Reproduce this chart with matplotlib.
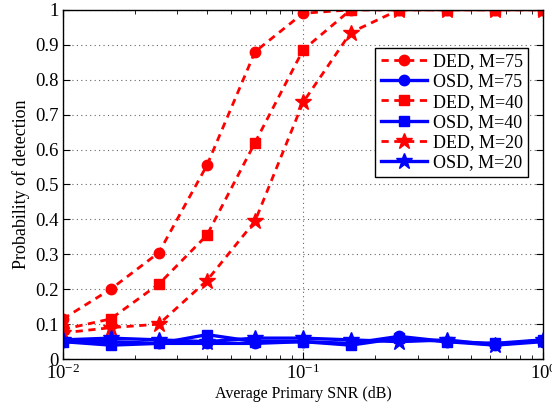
import numpy as np
import matplotlib
matplotlib.use("Agg")
import matplotlib.pyplot as plt
from matplotlib.ticker import LogLocator

plt.rcParams['font.family'] = ['Liberation Serif', 'DejaVu Serif']
plt.rcParams['mathtext.fontset'] = 'stix'

snr = [0.01, 0.0158, 0.0251, 0.0398, 0.0631, 0.1, 0.158, 0.251, 0.398, 0.631, 1.0]

ded_75 = [0.115, 0.20, 0.305, 0.555, 0.88, 0.99, 1.0, 1.0, 1.0, 1.0, 1.0]
osd_75 = [0.05, 0.05, 0.045, 0.045, 0.045, 0.05, 0.045, 0.065, 0.05, 0.04, 0.05]
ded_40 = [0.085, 0.115, 0.215, 0.355, 0.62, 0.885, 1.0, 1.0, 1.0, 1.0, 1.0]
osd_40 = [0.05, 0.04, 0.045, 0.07, 0.05, 0.05, 0.04, 0.06, 0.05, 0.045, 0.055]
ded_20 = [0.075, 0.09, 0.10, 0.225, 0.395, 0.735, 0.935, 1.0, 1.0, 1.0, 1.0]
osd_20 = [0.055, 0.06, 0.055, 0.05, 0.06, 0.06, 0.055, 0.05, 0.055, 0.04, 0.055]

yticks = [0, 0.1, 0.2, 0.3, 0.4, 0.5, 0.6, 0.7, 0.8, 0.9, 1.0]
ytick_labels = ['0', '0.1', '0.2', '0.3', '0.4', '0.5', '0.6', '0.7', '0.8', '0.9', '1']

fig = plt.figure(figsize=(5.52, 4.09), dpi=100)
ax = fig.add_axes([0.114, 0.122, 0.870, 0.854])

red = '#ff0000'
blue = '#0000ff'
dash = (2.6, 2.0)
ax.plot(snr, ded_75, '--', color=red, marker='o', ms=7.5, lw=2, dashes=dash, label='DED, M=75')
ax.plot(snr, osd_75, '-', color=blue, marker='o', ms=7.5, lw=2.4, label='OSD, M=75')
ax.plot(snr, ded_40, '--', color=red, marker='s', ms=7.5, lw=2, dashes=dash, label='DED, M=40')
ax.plot(snr, osd_40, '-', color=blue, marker='s', ms=7.5, lw=2.4, label='OSD, M=40')
ax.plot(snr, ded_20, '--', color=red, marker='*', ms=12, lw=2, dashes=dash, label='DED, M=20')
ax.plot(snr, osd_20, '-', color=blue, marker='*', ms=12, lw=2.4, label='OSD, M=20')

ax.set_xscale('log')
ax.set_xlim(0.01, 1.0)
ax.set_ylim(0, 1)
ax.set_yticks(yticks)
ax.set_yticklabels(ytick_labels)
ax.xaxis.set_major_locator(LogLocator(base=10, numticks=10))
ax.xaxis.set_minor_locator(LogLocator(base=10, subs=np.arange(2, 10), numticks=20))

ax.grid(True, which='major', linestyle=(0, (1, 3)), color='#666666', lw=0.8)
ax.tick_params(which='both', direction='in', top=True, right=True, labelsize=13.5)
ax.tick_params(which='major', length=5)
ax.tick_params(which='minor', length=3)
ax.tick_params(axis='y', pad=3)
for s in ax.spines.values():
    s.set_linewidth(1.0)

ax.set_xlabel('Average Primary SNR (dB)', fontsize=11.5, labelpad=2)
ax.set_ylabel('Probability of detection', fontsize=13, labelpad=4)

leg = ax.legend(loc='upper right', bbox_to_anchor=(0.969, 0.891), fontsize=13,
                frameon=True, fancybox=False, edgecolor='black', framealpha=1,
                handlelength=2.6, borderpad=0.3, labelspacing=0.18, handletextpad=0.3,
                borderaxespad=0)
leg.get_frame().set_linewidth(1.0)

fig.savefig('out.png', dpi=100)
